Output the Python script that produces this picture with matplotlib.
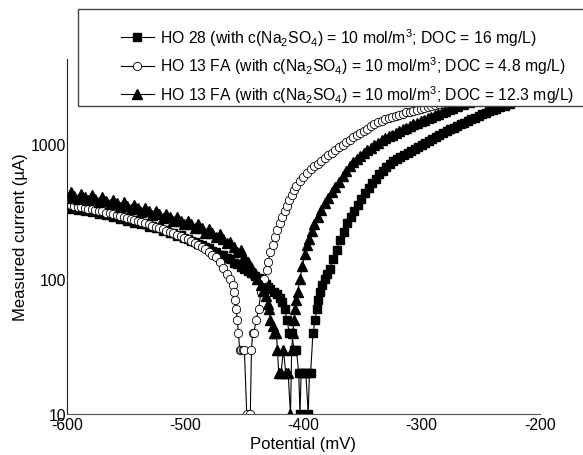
import matplotlib
matplotlib.use("Agg")
import matplotlib.pyplot as plt
from matplotlib.patches import Rectangle
from matplotlib.ticker import NullLocator

plt.rcParams['font.family'] = ['Liberation Sans', 'DejaVu Sans']
plt.rcParams['mathtext.default'] = 'regular'
plt.rcParams['axes.unicode_minus'] = False

# HO 28 (filled squares)
ho28_mv = [-600, -597, -594, -591, -588, -585, -582, -579, -576, -573,
           -570, -567, -564, -561, -558, -555, -552, -549, -546, -543,
           -540, -537, -534, -531, -528, -525, -522, -519, -516, -513,
           -510, -507, -504, -501, -498, -495, -492, -489, -486, -483,
           -480, -477, -474, -471, -468, -465, -462, -459, -456, -453,
           -450, -447, -444, -441,
           -438, -436, -434, -432, -430, -428, -425, -422, -420, -418,
           -416, -414, -412, -410, -408, -406, -404, -403, -402, -400,
           -398, -396, -395, -394, -392, -390, -389, -388, -386, -384,
           -382, -380,
           -378, -375, -372, -369, -366, -363, -360, -357, -354, -351,
           -348, -345, -342, -339, -336, -333, -330, -327, -324, -321,
           -318, -315, -312, -309, -306, -303, -300, -297, -294, -291,
           -288, -285, -282, -279, -276, -273, -270, -267, -264, -261,
           -258, -255, -252, -249, -246, -243, -240, -237, -234,
           -230, -225, -220, -215, -210, -205, -200]
ho28_ua = [345, 330, 340, 328, 335, 320, 326, 315, 318, 305,
           310, 298, 300, 288, 292, 280, 284, 272, 275, 262,
           266, 255, 257, 245, 248, 238, 240, 228, 230, 220,
           222, 210, 212, 202, 200, 192, 190, 182, 180, 172,
           170, 162, 160, 152, 150, 143, 140, 133, 130, 124,
           120, 115, 111, 106,
           102, 100, 95, 92, 88, 85, 80, 78, 72, 68,
           60, 50, 40, 40, 30, 30, 20, 10, 20, 20,
           20, 10, 20, 20, 40, 50, 60, 70, 80, 90,
           100, 110,
           120, 140, 165, 195, 225, 262, 288, 322, 358, 395,
           435, 475, 518, 558, 600, 640, 680, 715, 750, 780,
           810, 840, 870, 900, 930, 960, 990, 1025, 1060, 1095,
           1130, 1170, 1210, 1250, 1290, 1330, 1370, 1410, 1450, 1490,
           1530, 1580, 1630, 1680, 1720, 1760, 1800, 1840, 1880,
           1940, 2010, 2090, 2170, 2250, 2330, 2410]

# HO 13 FA, DOC = 4.8 mg/L (open circles)
fa48_mv = [-600, -597, -594, -591, -588, -585, -582, -579, -576, -573,
           -570, -567, -564, -561, -558, -555, -552, -549, -546, -543,
           -540, -537, -534, -531, -528, -525, -522, -519, -516, -513,
           -510, -507, -504, -501, -498, -495, -492, -489, -486, -483,
           -480, -477,
           -474, -471, -468, -465, -462, -460, -459, -458, -457, -456,
           -455, -454, -453, -451, -450, -448, -445, -444, -443, -442,
           -440, -438, -436, -433, -431, -430, -428, -426, -424, -422,
           -420, -418, -416, -414, -412, -410, -408, -406, -403, -400,
           -397, -394, -391, -388, -385, -382, -379, -376, -373, -370,
           -367, -364, -361, -358, -355, -352, -349, -346, -343, -340,
           -337, -334, -331, -328, -325, -322, -319, -316, -313, -310,
           -307, -304, -301, -298, -295, -292, -289,
           -285, -280, -275, -270, -265, -260, -255, -250, -245, -240,
           -235, -230, -225, -220, -215, -210, -205, -200]
fa48_ua = [362, 356, 352, 346, 343, 338, 334, 330, 326, 322,
           318, 312, 308, 304, 300, 295, 290, 284, 278, 274,
           268, 264, 260, 255, 250, 245, 240, 234, 228, 224,
           219, 214, 208, 202, 198, 192, 186, 180, 174, 167,
           160, 152,
           145, 135, 122, 110, 100, 90, 80, 70, 60, 50,
           40, 30, 30, 30, 30, 10, 10, 30, 40, 40,
           50, 60, 80, 100, 118, 135, 160, 180, 205, 230,
           262, 290, 318, 350, 385, 420, 455, 490, 535, 575,
           615, 655, 690, 720, 755, 790, 830, 870, 910, 950,
           995, 1040, 1085, 1130, 1175, 1220, 1265, 1310, 1360, 1410,
           1455, 1490, 1530, 1565, 1600, 1635, 1665, 1695, 1725, 1750,
           1770, 1800, 1830, 1860, 1895, 1930, 1960,
           2000, 2050, 2100, 2150, 2200, 2250, 2300, 2350, 2400, 2450,
           2500, 2550, 2600, 2650, 2700, 2750, 2800, 2850]

# HO 13 FA, DOC = 12.3 mg/L (filled triangles)
fa123_mv = [-600, -597, -594, -591, -588, -585, -582, -579, -576, -573,
            -570, -567, -564, -561, -558, -555, -552, -549, -546, -543,
            -540, -537, -534, -531, -528, -525, -522, -519, -516, -513,
            -510, -507, -504, -501, -498, -495, -492, -489, -486, -483,
            -480, -477, -474, -471, -468, -465, -462, -459, -456, -453,
            -450, -447, -444, -441,
            -439, -436, -434, -432, -430, -429, -428, -426, -425, -423,
            -422, -421, -419, -417, -415, -413, -411, -410, -409, -408,
            -407, -406, -405, -403, -401, -399, -397, -395, -393, -391,
            -388, -385, -382, -379, -376, -373, -370, -367, -364, -361,
            -358, -355, -352, -349, -346, -343, -340, -337, -334, -331,
            -328, -325, -322, -319, -316, -313, -310, -307, -304, -301,
            -298, -295, -292, -289, -286, -283, -280, -277, -274,
            -270, -265, -260, -255, -250, -245, -240, -235, -230, -225,
            -220, -215, -210, -205, -200]
fa123_ua = [400, 440, 415, 395, 430, 405, 385, 420, 395, 375,
            405, 380, 360, 390, 365, 345, 372, 350, 330, 355,
            335, 315, 340, 318, 300, 322, 302, 285, 305, 287,
            270, 290, 272, 255, 272, 255, 238, 255, 238, 222,
            236, 220, 205, 215, 198, 184, 190, 172, 160, 165,
            145, 134, 124, 112,
            100, 90, 82, 75, 65, 60, 50, 45, 40, 40,
            30, 20, 20, 30, 20, 20, 10, 30, 40, 50,
            60, 70, 80, 100, 125, 155, 180, 200, 228, 255,
            290, 325, 365, 400, 440, 485, 530, 585, 640, 690,
            735, 780, 820, 865, 905, 945, 990, 1030, 1070, 1110,
            1145, 1180, 1215, 1250, 1290, 1330, 1370, 1410, 1445, 1485,
            1525, 1560, 1600, 1645, 1690, 1735, 1780, 1825, 1870,
            1920, 1990, 2060, 2130, 2200, 2270, 2340, 2410, 2480, 2550,
            2620, 2690, 2760, 2830, 2900]

assert len(ho28_mv) == len(ho28_ua)
assert len(fa48_mv) == len(fa48_ua)
assert len(fa123_mv) == len(fa123_ua)

labels = [r'HO 28 (with c(Na$_2$SO$_4$) = 10 mol/m$^3$; DOC = 16 mg/L)',
          r'HO 13 FA (with c(Na$_2$SO$_4$) = 10 mol/m$^3$; DOC = 4.8 mg/L)',
          r'HO 13 FA (with c(Na$_2$SO$_4$) = 10 mol/m$^3$; DOC = 12.3 mg/L)']

fig = plt.figure(figsize=(5.83, 4.56), dpi=100)
ax = fig.add_axes([67/583, 41/456, 473/583, 355/456])

ax.plot(ho28_mv, ho28_ua, color='black', lw=0.8, marker='s', ms=6,
        mfc='black', mec='black', label=labels[0])
ax.plot(fa48_mv, fa48_ua, color='black', lw=0.8, marker='o', ms=6,
        mfc='white', mec='black', mew=0.6, label=labels[1])
ax.plot(fa123_mv, fa123_ua, color='black', lw=0.8, marker='^', ms=7,
        mfc='black', mec='black', label=labels[2])

ax.set_yscale('log')
ax.set_xlim(-600, -200)
ax.set_ylim(10, 4300)
ax.set_xticks([-600, -500, -400, -300, -200])
ax.set_yticks([10, 100, 1000])
ax.set_yticklabels(['10', '100', '1000'])
ax.yaxis.set_minor_locator(NullLocator())
ax.tick_params(length=0, labelsize=11.3, pad=2)
ax.tick_params(axis='y', pad=0.5)

ax.spines['top'].set_visible(False)
ax.spines['right'].set_visible(False)
ax.spines['left'].set_color('#222222')
ax.spines['bottom'].set_color('#555555')

ax.set_xlabel('Potential (mV)', fontsize=12)
ax.set_ylabel('Measured current (µA)', fontsize=12)
ax.xaxis.set_label_coords(0.5, -0.062)
ax.yaxis.set_label_coords(-0.082, 0.5)

# legend box sits over the top of the plot and runs off the right edge
box = Rectangle((78/583, 1 - 107/456), 0.95, 97/456, transform=fig.transFigure,
                facecolor='white', edgecolor='#444444', lw=1, zorder=3)
fig.add_artist(box)
handles, labs = ax.get_legend_handles_labels()
leg = fig.legend(handles, labs, loc='upper left', bbox_to_anchor=(121/583, 1 - 27/456),
                 frameon=False, borderpad=0, borderaxespad=0, handlelength=2.1,
                 handletextpad=0.4, labelspacing=0.44, fontsize=11.3)
leg.set_zorder(4)

fig.savefig('out.png', dpi=100)
